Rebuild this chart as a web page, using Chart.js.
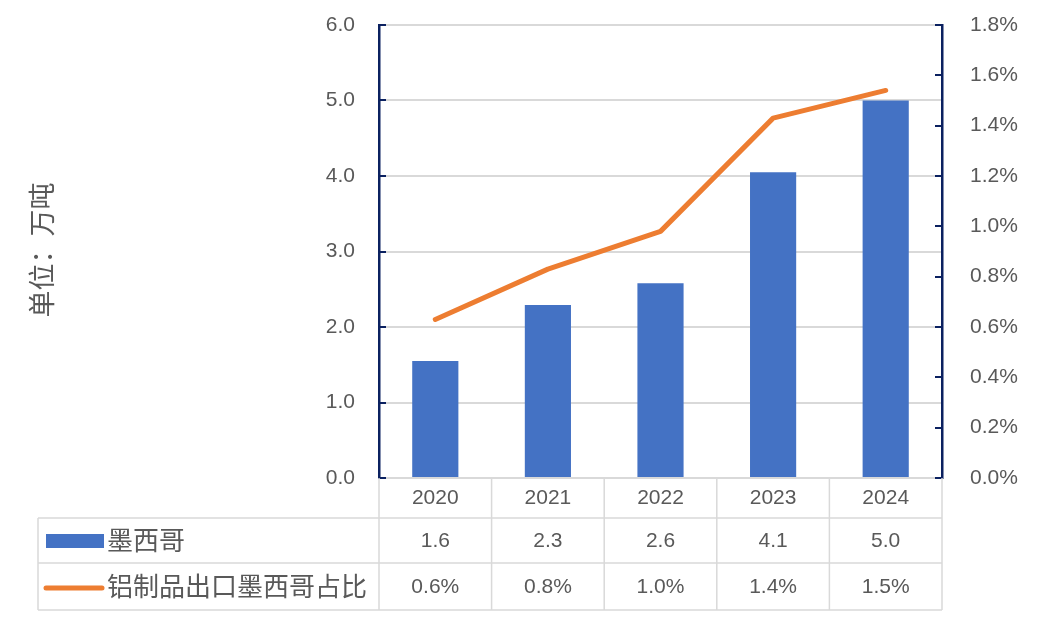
<!DOCTYPE html>
<html lang="zh">
<head>
<meta charset="UTF-8">
<title>墨西哥</title>
<script src="https://cdn.jsdelivr.net/npm/chart.js"></script>
<style>
  html, body { margin: 0; padding: 0; background: #fff; }
  .chartBox { width: 1049px; height: 624px; }
</style>
</head>
<body>
<div class="chartBox"><canvas id="chart"></canvas></div>
<script>
// data
const years = ["2020", "2021", "2022", "2023", "2024"];
const tonnes = [1.55, 2.29, 2.58, 4.05, 5.0];          // 万吨
const share = [0.63, 0.83, 0.98, 1.43, 1.54];           // %
const barName = "墨西哥";
const lineName = "铝制品出口墨西哥占比";

const textColor = "#595959";
const navy = "#0b2160";
const gridGray = "#d9d9d9";
const latin = "'Liberation Sans', Arial, sans-serif";
const cjk = "'Noto Sans CJK SC', sans-serif";

function fmt1(v) { return (Math.round(v * 10) / 10).toFixed(1); }

// inward ticks, y title and the data table under the plot
const extras = {
  id: "extras",
  afterDraw(chart) {
    const { ctx, chartArea: a, scales } = chart;
    const x = scales.x, yl = scales.y, yr = scales.y1;
    ctx.save();

    // axis ticks (pointing inside)
    ctx.strokeStyle = navy;
    ctx.lineWidth = 2;
    yl.ticks.forEach(t => {
      const py = Math.round(yl.getPixelForValue(t.value));
      ctx.beginPath(); ctx.moveTo(a.left, py); ctx.lineTo(a.left + 7, py); ctx.stroke();
    });
    yr.ticks.forEach(t => {
      const py = Math.round(yr.getPixelForValue(t.value));
      ctx.beginPath(); ctx.moveTo(a.right, py); ctx.lineTo(a.right - 7, py); ctx.stroke();
    });

    // y title
    ctx.fillStyle = textColor;
    ctx.font = "27px " + cjk;
    ctx.textAlign = "center";
    ctx.textBaseline = "middle";
    ctx.translate(42, 250);
    ctx.rotate(-Math.PI / 2);
    ctx.fillText("单位：万吨", 0, 0);
    ctx.setTransform(1, 0, 0, 1, 0, 0);

    // table grid
    const row1 = 518, row2 = 563, row3 = 610, legLeft = 38;
    const step = (a.right - a.left) / years.length;
    ctx.strokeStyle = gridGray;
    ctx.lineWidth = 1.5;
    ctx.beginPath();
    [row1, row2, row3].forEach(yy => { ctx.moveTo(legLeft, yy); ctx.lineTo(a.right, yy); });
    ctx.moveTo(legLeft, row1); ctx.lineTo(legLeft, row3);
    for (let i = 0; i <= years.length; i++) {
      const xx = a.left + i * step;
      ctx.moveTo(xx, a.bottom); ctx.lineTo(xx, row3);
    }
    ctx.stroke();

    // legend keys
    ctx.fillStyle = "#4472C4";
    ctx.fillRect(46, 534, 58, 14);
    ctx.strokeStyle = "#ED7D31";
    ctx.lineWidth = 5;
    ctx.lineCap = "round";
    ctx.beginPath(); ctx.moveTo(46, 588); ctx.lineTo(102, 588); ctx.stroke();

    ctx.fillStyle = textColor;
    ctx.textAlign = "left";
    ctx.font = "26px " + cjk;
    ctx.fillText(barName, 107, (row1 + row2) / 2);
    ctx.fillText(lineName, 107, (row2 + row3) / 2);

    // values
    ctx.textAlign = "center";
    ctx.font = "21px " + latin;
    years.forEach((yr0, i) => {
      const cx = x.getPixelForValue(i);
      ctx.fillText(fmt1(tonnes[i]), cx, (row1 + row2) / 2 + 1);
      ctx.fillText(fmt1(share[i]) + "%", cx, (row2 + row3) / 2 + 1);
    });
    ctx.restore();
  }
};

new Chart(document.getElementById("chart"), {
  data: {
    labels: years,
    datasets: [
      {
        type: "line",
        label: lineName,
        data: share,
        yAxisID: "y1",
        borderColor: "#ED7D31",
        borderWidth: 5,
        borderCapStyle: "round",
        borderJoinStyle: "round",
        pointRadius: 0,
        tension: 0,
        order: 0
      },
      {
        type: "bar",
        label: barName,
        data: tonnes,
        yAxisID: "y",
        backgroundColor: "#4472C4",
        categoryPercentage: 1,
        barPercentage: 0.41,
        order: 1
      }
    ]
  },
  options: {
    responsive: true,
    maintainAspectRatio: false,
    animation: false,
    layout: { padding: { top: 25, left: 0, right: 0, bottom: 0 } },
    plugins: { legend: { display: false }, tooltip: { enabled: false } },
    scales: {
      x: {
        grid: { display: false, drawTicks: false },
        border: { display: false },
        ticks: { color: textColor, font: { family: latin, size: 21 }, padding: 8 },
        afterFit(s) { s.height = 624 - 478; }
      },
      y: {
        position: "left",
        min: 0, max: 6,
        ticks: { stepSize: 1, color: textColor, font: { family: latin, size: 21 }, padding: 24,
                 callback: v => v.toFixed(1) },
        grid: { color: gridGray, lineWidth: 2, drawTicks: false },
        border: { color: navy, width: 2.5 },
        afterFit(s) { s.width = 379; s.paddingTop = 0; s.paddingBottom = 0; }
      },
      y1: {
        position: "right",
        min: 0, max: 1.8,
        ticks: { stepSize: 0.2, color: textColor, font: { family: latin, size: 21 }, padding: 28,
                 callback: v => v.toFixed(1) + "%" },
        grid: { display: false, drawTicks: false },
        border: { color: navy, width: 2.5 },
        afterFit(s) { s.width = 1049 - 942; s.paddingTop = 0; s.paddingBottom = 0; }
      }
    }
  },
  plugins: [extras]
});
</script>
</body>
</html>
